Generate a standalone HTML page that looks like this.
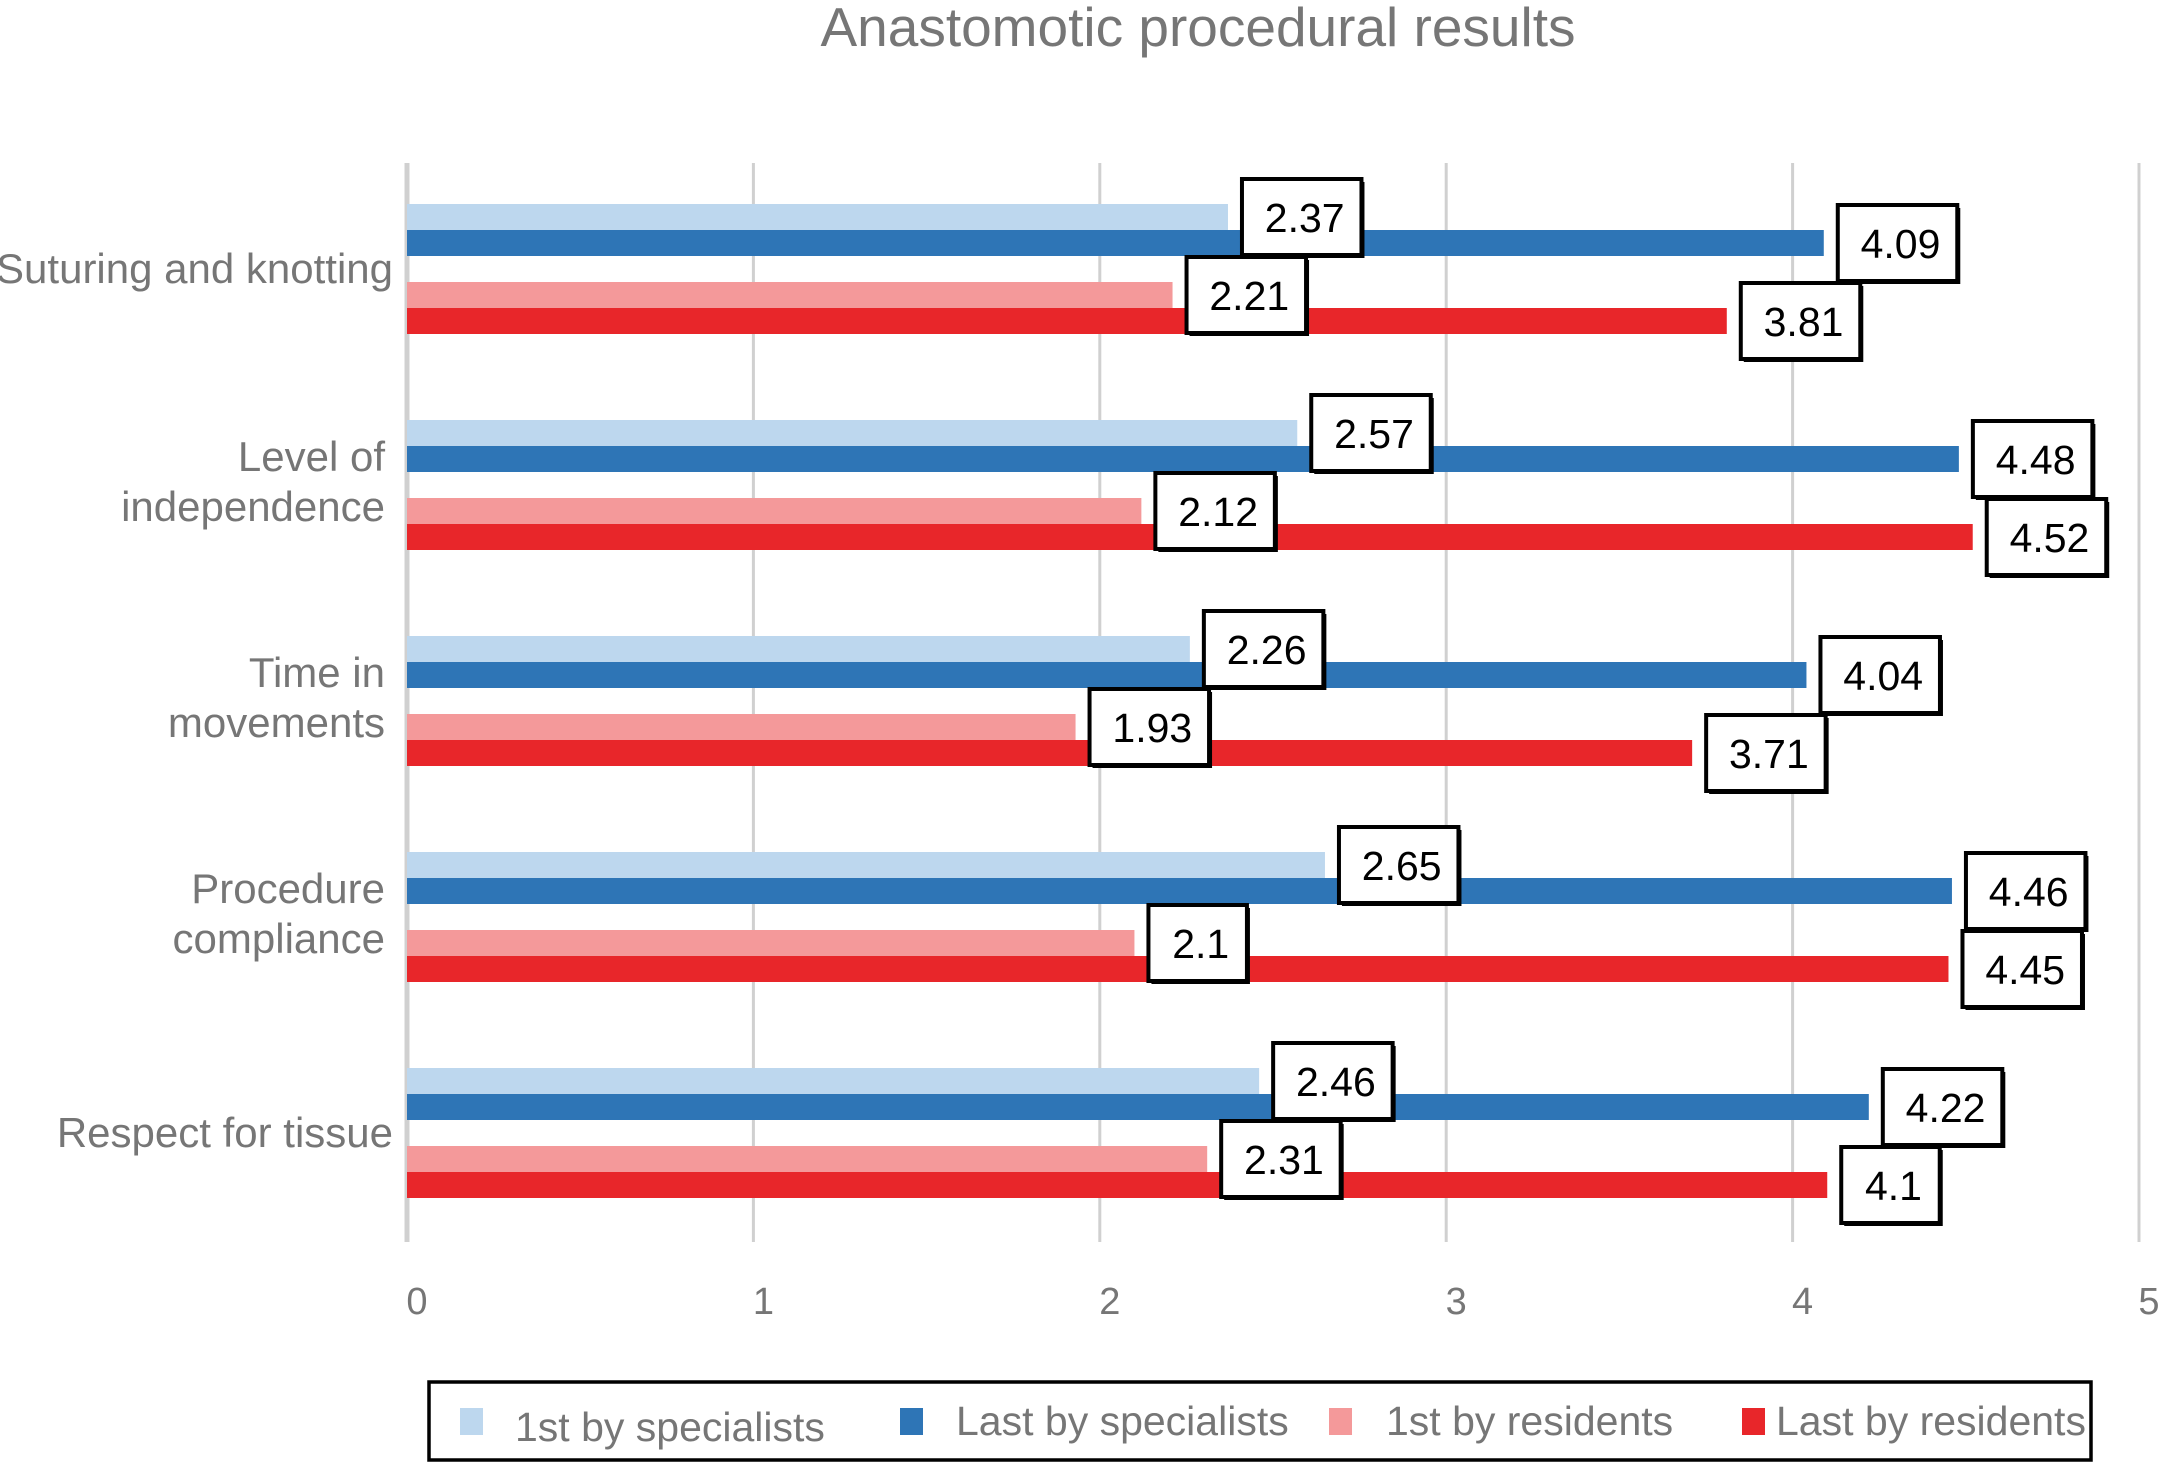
<!DOCTYPE html>
<html><head><meta charset="utf-8"><style>
html,body{margin:0;padding:0;background:#fff;}
svg{display:block;font-family:"Liberation Sans",Arial,sans-serif;}
</style></head><body>
<svg id="chart" width="2164" height="1463" viewBox="0 0 2164 1463" xmlns="http://www.w3.org/2000/svg">
<text x="1198" y="46" text-anchor="middle" font-size="55" fill="#767676">Anastomotic procedural results</text>
<g id="grid"></g><g id="bars"></g><g id="labels"></g><g id="cats"></g><g id="ticks"></g>
<g>
<rect x="429" y="1382" width="1662" height="78" fill="#fff" stroke="#000" stroke-width="3.5"/>
<g><rect x="460" y="1408" width="23" height="27" fill="#bdd7ee"/><text x="515" y="1441" font-size="41" fill="#767676">1st by specialists</text></g>
<g><rect x="900" y="1408" width="23" height="27" fill="#2e75b6"/><text x="956" y="1435" font-size="41" fill="#767676">Last by specialists</text></g>
<g><rect x="1329" y="1408" width="23" height="27" fill="#f4999a"/><text x="1386" y="1435" font-size="41" fill="#767676">1st by residents</text></g>
<g><rect x="1742" y="1408" width="23" height="27" fill="#e8262a"/><text x="1776" y="1435" font-size="41" fill="#767676">Last by residents</text></g>
</g>
</svg>
<script>
const categories = [["Suturing and knotting"],["Level of","independence"],["Time in","movements"],["Procedure","compliance"],["Respect for tissue"]];
const firstSpecialists = [2.37,2.57,2.26,2.65,2.46];
const lastSpecialists = [4.09,4.48,4.04,4.46,4.22];
const firstResidents = [2.21,2.12,1.93,2.1,2.31];
const lastResidents = [3.81,4.52,3.71,4.45,4.1];
const tickLabels = ["0","1","2","3","4","5"];

const NS="http://www.w3.org/2000/svg";
const x0=407, unit=346.4, gTop=204, gStep=216, bh=26;
const xs=v=>x0+v*unit;
function mk(tag,attrs,parent){const e=document.createElementNS(NS,tag);for(const k in attrs)e.setAttribute(k,attrs[k]);parent.appendChild(e);return e;}
const grid=document.getElementById('grid'),bars=document.getElementById('bars'),labels=document.getElementById('labels'),cats=document.getElementById('cats'),ticks=document.getElementById('ticks');
tickLabels.forEach((t,i)=>{
  const v=parseFloat(t);
  const l=mk('line',{x1:xs(v),x2:xs(v),y1:163,y2:1242,stroke:'#d0d0d0','stroke-width':i===0?5:3},grid);
  
  
  const tx=mk('text',{x:xs(v)+10,y:1314,'font-size':38,fill:'#767676','text-anchor':'middle'},ticks);
  tx.textContent=t;
  
  
});
const series=[[firstSpecialists,'#bdd7ee',0],[lastSpecialists,'#2e75b6',26],[firstResidents,'#f4999a',78],[lastResidents,'#e8262a',104]];
const pending=[];
categories.forEach((c,i)=>{
  const top=gTop+i*gStep;
  series.forEach(([arr,col,off])=>{
    const v=arr[i], y=top+off;
    const r=mk('rect',{x:x0,y:y,width:xs(v)-x0,height:bh,fill:col},bars);
    
    
    pending.push([v,y+bh/2]);
  });
  const cy=top+65, n=c.length;
  c.forEach((line,j)=>{
    const t=mk('text',{x:n===1?393:385,y:cy+(j-(n-1)/2)*50+(n===1?14:11),'font-size':42,fill:'#767676','text-anchor':'end'},cats);
    t.textContent=line;
    
    
  });
});
pending.forEach(([v,cy])=>{
  const g=mk('g',{},labels);
  
  
  const txt=String(v);
  const tw=txt.length*21-10.5;
  const w=tw+46, bx=xs(v)+14;
  mk('rect',{x:bx+3,y:cy-38+3,width:w,height:76,fill:'#000'},g);
  mk('rect',{x:bx,y:cy-38,width:w,height:76,fill:'#fff',stroke:'#000','stroke-width':4},g);
  const t=mk('text',{x:bx+w/2+3,y:cy+15,'font-size':41,fill:'#000','text-anchor':'middle'},g);
  t.textContent=txt;
});
</script>
</body></html>
